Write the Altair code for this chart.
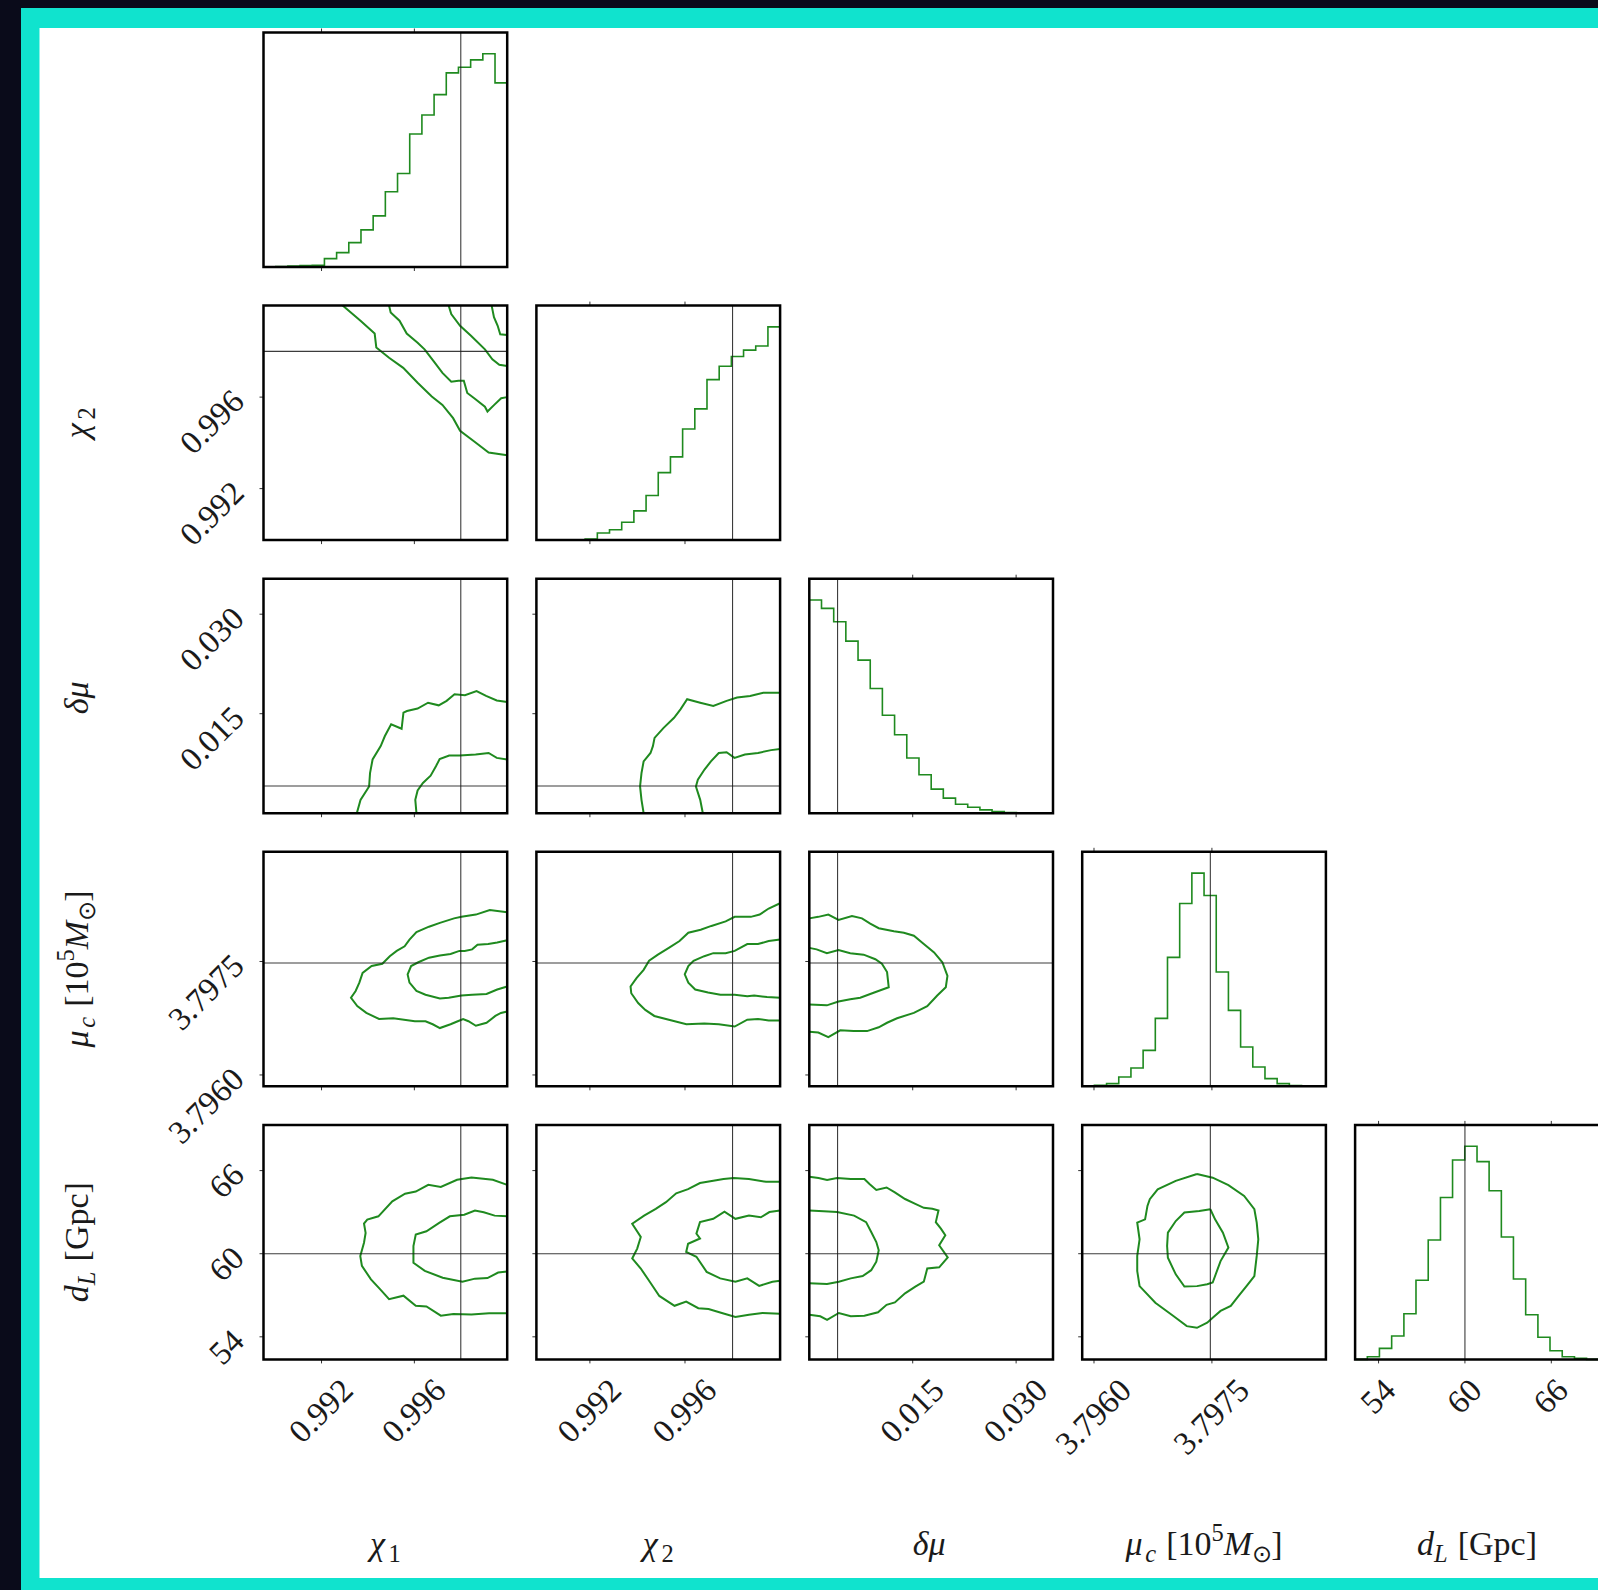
import altair as alt
import pandas as pd

FONT = "Liberation Serif"
GREEN = "#1f8a1f"
INK = "#1a1a1a"
CYAN = "#10e3ce"
NAVY = "#0a0b1a"

# ---------------- parameter ranges shown in each panel ----------------
chi1_range = [0.9895, 1.0]
chi2_range = [0.98975, 1.0]
dmu_range = [0.0, 0.03535]
muc_range = [3.79585, 3.79895]
dL_range = [52.37, 69.30]

# injected values (black cross-hair lines)
chi1_true = 0.998
chi2_true = 0.998
dmu_true = 0.0041
muc_true = 3.79748
dL_true = 60.0

# ticks
chi_ticks = [0.992, 0.996]
chi_tick_labels = ["0.992", "0.996"]
dmu_ticks = [0.015, 0.030]
dmu_tick_labels = ["0.015", "0.030"]
muc_ticks = [3.7960, 3.7975]
muc_tick_labels = ["3.7960", "3.7975"]
dL_ticks = [54, 60, 66]
dL_tick_labels = ["54", "60", "66"]

# ---------------- 1-D marginals (20 bins) ----------------
chi1_edges = [0.9895, 0.990025, 0.99055, 0.991075, 0.9916, 0.992125, 0.99265, 0.993175, 0.9937, 0.994225,
              0.99475, 0.995275, 0.9958, 0.996325, 0.99685, 0.997375, 0.9979, 0.998425, 0.99895, 0.999475, 1.0]
chi1_counts = [0, 1, 3, 4, 5, 25, 43, 73, 111, 153, 225, 280, 398, 455, 516, 581, 598, 620, 638, 551]

chi2_edges = [0.98975, 0.990263, 0.990775, 0.991288, 0.9918, 0.992313, 0.992825, 0.993338, 0.99385, 0.994363,
              0.994875, 0.995388, 0.9959, 0.996413, 0.996925, 0.997438, 0.99795, 0.998463, 0.998975, 0.999488, 1.0]
chi2_counts = [0, 0, 0, 1, 3, 21, 31, 53, 87, 133, 201, 248, 331, 391, 478, 518, 547, 566, 578, 635]

dmu_edges = [0.0, 0.00177, 0.00354, 0.0053, 0.00707, 0.00884, 0.0106, 0.01237, 0.01414, 0.01591,
             0.01768, 0.01944, 0.02121, 0.02298, 0.02475, 0.02651, 0.02828, 0.03005, 0.03182, 0.03358, 0.03535]
dmu_counts = [638, 613, 573, 515, 458, 373, 293, 235, 165, 115, 72, 45, 27, 18, 10, 5, 2, 1, 0, 0]

muc_edges = [3.79585, 3.796005, 3.79616, 3.796315, 3.79647, 3.796625, 3.79678, 3.796935, 3.79709, 3.797245,
             3.7974, 3.797555, 3.79771, 3.797865, 3.79802, 3.798175, 3.79833, 3.798485, 3.79864, 3.798795, 3.79895]
muc_counts = [1, 3, 8, 28, 55, 108, 204, 387, 549, 640, 573, 343, 228, 118, 58, 23, 8, 2, 0, 0]

dL_edges = [52.37, 53.22, 54.06, 54.91, 55.76, 56.60, 57.45, 58.30, 59.14, 59.99,
            60.84, 61.68, 62.53, 63.37, 64.22, 65.07, 65.91, 66.76, 67.61, 68.45, 69.30]
dL_counts = [0, 8, 33, 70, 136, 236, 356, 483, 595, 636, 590, 503, 365, 240, 133, 66, 26, 8, 3, 0]

# ---------------- 2-D credible contours ----------------
chi1_chi2_a_x = [0.99291, 0.99368, 0.99429, 0.99436, 0.99491, 0.99552, 0.99614, 0.99675, 0.99721, 0.99767, 0.99797, 0.99858, 0.99920, 1.0]
chi1_chi2_a_y = [1.0, 0.99934, 0.99878, 0.99817, 0.99772, 0.99728, 0.99663, 0.99603, 0.99566, 0.99508, 0.99453, 0.99406, 0.99358, 0.99346]
chi1_chi2_b_x = [0.99491, 0.99498, 0.99536, 0.99567, 0.99614, 0.99644, 0.99682, 0.99721, 0.99759, 0.99790, 0.99813, 0.99828, 0.99858, 0.99904, 0.99915, 0.99943, 0.99974, 1.0]
chi1_chi2_b_y = [1.0, 0.99970, 0.99934, 0.99878, 0.99838, 0.99809, 0.99758, 0.99706, 0.99667, 0.99672, 0.99672, 0.99618, 0.99595, 0.99558, 0.99537, 0.99565, 0.99595, 0.99600]
chi1_chi2_c_x = [0.99748, 0.99759, 0.99797, 0.99844, 0.99904, 0.99936, 0.99966, 1.0]
chi1_chi2_c_y = [1.0, 0.99963, 0.99912, 0.99868, 0.99809, 0.99765, 0.99741, 0.99736]
chi1_chi2_d_x = [0.99933, 0.99943, 0.99959, 0.99970, 1.0]
chi1_chi2_d_y = [1.0, 0.99949, 0.99912, 0.99875, 0.99872]

chi1_dmu_a_x = [0.99352, 0.99368, 0.99405, 0.99409, 0.99420, 0.99455, 0.99473, 0.99500, 0.99545, 0.99553, 0.99568,
                0.99614, 0.99659, 0.99705, 0.99739, 0.99773, 0.99818, 0.99868, 0.99909, 0.99955, 1.0]
chi1_dmu_a_y = [0.0, 0.00201, 0.00403, 0.00604, 0.00810, 0.01011, 0.01163, 0.01340, 0.01273, 0.01517, 0.01541,
                0.01577, 0.01665, 0.01626, 0.01693, 0.01792, 0.01778, 0.01842, 0.01768, 0.01700, 0.01676]
chi1_dmu_b_x = [0.99609, 0.99604, 0.99614, 0.99637, 0.99670, 0.99693, 0.99709, 0.99750, 0.99795, 0.99864, 0.99920, 0.99955, 1.0]
chi1_dmu_b_y = [0.0, 0.00201, 0.00343, 0.00456, 0.00566, 0.00707, 0.00817, 0.00870, 0.00870, 0.00884, 0.00908, 0.00834, 0.00810]

chi2_dmu_a_x = [0.99426, 0.99417, 0.99411, 0.99417, 0.99426, 0.99455, 0.99465, 0.99472, 0.99510, 0.99554,
                0.99581, 0.99609, 0.99664, 0.99719, 0.99775, 0.99819, 0.99874, 0.99929, 1.0]
chi2_dmu_a_y = [0.0, 0.00201, 0.00403, 0.00604, 0.00781, 0.00908, 0.01011, 0.01135, 0.01287, 0.01439,
                0.01566, 0.01718, 0.01665, 0.01616, 0.01693, 0.01743, 0.01768, 0.01817, 0.01817]
chi2_dmu_b_x = [0.99675, 0.99664, 0.99646, 0.99654, 0.99682, 0.99709, 0.99742, 0.99775, 0.99808, 0.99852, 0.99907, 0.99962, 1.0]
chi2_dmu_b_y = [0.0, 0.00201, 0.00403, 0.00506, 0.00658, 0.00781, 0.00908, 0.00919, 0.00834, 0.00884, 0.00908, 0.00951, 0.00969]

chi1_muc_a_x = [1.0, 0.99925, 0.99865, 0.99803, 0.99771, 0.99710, 0.99663, 0.99609, 0.99579, 0.99558, 0.99524, 0.99494,
                0.99462, 0.99416, 0.99377, 0.99363, 0.99347, 0.99327, 0.99354, 0.99393, 0.99448, 0.99509, 0.99602, 0.99648,
                0.99679, 0.99710, 0.99756, 0.99787, 0.99810, 0.99833, 0.99865, 0.99911, 0.99949, 0.99973, 1.0]
chi1_muc_a_y = [3.79815, 3.79818, 3.79812, 3.79809, 3.79807, 3.79801, 3.79796, 3.79789, 3.79779, 3.79770, 3.79764, 3.79757,
                3.79747, 3.79744, 3.79735, 3.79722, 3.79711, 3.79702, 3.79691, 3.79682, 3.79674, 3.79675, 3.79671, 3.79671,
                3.79667, 3.79662, 3.79667, 3.79671, 3.79674, 3.79671, 3.79665, 3.79669, 3.79678, 3.79682, 3.79684]
chi1_muc_b_x = [1.0, 0.99957, 0.99918, 0.99872, 0.99849, 0.99817, 0.99794, 0.99756, 0.99710, 0.99663, 0.99617, 0.99586,
                0.99571, 0.99579, 0.99609, 0.99648, 0.99710, 0.99748, 0.99803, 0.99849, 0.99911, 0.99957, 1.0]
chi1_muc_b_y = [3.79778, 3.79775, 3.79773, 3.79772, 3.79766, 3.79764, 3.79764, 3.79760, 3.79758, 3.79755, 3.79749, 3.79744,
                3.79733, 3.79722, 3.79711, 3.79706, 3.79701, 3.79702, 3.79705, 3.79706, 3.79707, 3.79713, 3.79717]

chi2_muc_a_x = [1.0, 0.99952, 0.99914, 0.99877, 0.99846, 0.99809, 0.99771, 0.99711, 0.99666, 0.99614, 0.99577, 0.99532,
                0.99486, 0.99449, 0.99426, 0.99396, 0.99371, 0.99374, 0.99403, 0.99433, 0.99471, 0.99532, 0.99606, 0.99681,
                0.99742, 0.99809, 0.99862, 0.99907, 0.99952, 1.0]
chi2_muc_a_y = [3.79827, 3.79820, 3.79812, 3.79809, 3.79809, 3.79809, 3.79803, 3.79797, 3.79792, 3.79788, 3.79777, 3.79768,
                3.79759, 3.79751, 3.79739, 3.79728, 3.79717, 3.79708, 3.79695, 3.79686, 3.79678, 3.79673, 3.79667, 3.79668,
                3.79667, 3.79664, 3.79673, 3.79674, 3.79672, 3.79672]
chi2_muc_b_x = [1.0, 0.99952, 0.99907, 0.99862, 0.99809, 0.99771, 0.99719, 0.99681, 0.99636, 0.99614, 0.99599, 0.99614,
                0.99643, 0.99697, 0.99749, 0.99809, 0.99862, 0.99891, 0.99945, 1.0]
chi2_muc_b_y = [3.79779, 3.79777, 3.79773, 3.79773, 3.79764, 3.79761, 3.79761, 3.79757, 3.79751, 3.79744, 3.79733, 3.79722,
                3.79713, 3.79709, 3.79706, 3.79706, 3.79704, 3.79705, 3.79703, 3.79702]

dmu_muc_a_x = [0.0, 0.00131, 0.00276, 0.00424, 0.00619, 0.00764, 0.00884, 0.01007, 0.01227, 0.01372, 0.01517, 0.01661,
               0.01810, 0.01930, 0.02004, 0.01980, 0.01856, 0.01711, 0.01517, 0.01273, 0.01128, 0.01007, 0.00838, 0.00643,
               0.00449, 0.00276, 0.00131, 0.0]
dmu_muc_a_y = [3.79807, 3.79809, 3.79812, 3.79805, 3.79810, 3.79807, 3.79800, 3.79794, 3.79790, 3.79788, 3.79784, 3.79773,
               3.79762, 3.79749, 3.79731, 3.79716, 3.79705, 3.79691, 3.79682, 3.79675, 3.79669, 3.79663, 3.79658, 3.79658,
               3.79659, 3.79650, 3.79656, 3.79657]
dmu_muc_b_x = [0.0, 0.00106, 0.00255, 0.00424, 0.00594, 0.00788, 0.00958, 0.01053, 0.01128, 0.01152, 0.01032, 0.00884,
               0.00739, 0.00594, 0.00424, 0.00255, 0.0]
dmu_muc_b_y = [3.79768, 3.79766, 3.79761, 3.79765, 3.79761, 3.79759, 3.79753, 3.79747, 3.79736, 3.79716, 3.79712, 3.79707,
               3.79702, 3.79700, 3.79697, 3.79692, 3.79693]

chi1_dL_a_x = [1.0, 0.99938, 0.99846, 0.99784, 0.99714, 0.99660, 0.99606, 0.99560, 0.99505, 0.99445, 0.99397, 0.99383,
               0.99390, 0.99383, 0.99367, 0.99374, 0.99413, 0.99452, 0.99491, 0.99553, 0.99606, 0.99652, 0.99714, 0.99768,
               0.99846, 0.99922, 1.0]
chi1_dL_a_y = [64.97, 65.34, 65.51, 65.34, 64.82, 64.97, 64.49, 64.33, 63.78, 62.70, 62.47, 62.18, 61.50, 60.79, 59.83,
               59.12, 58.15, 57.44, 56.72, 56.97, 56.24, 56.19, 55.53, 55.65, 55.62, 55.70, 55.70]
chi1_dL_b_x = [1.0, 0.99946, 0.99899, 0.99861, 0.99815, 0.99753, 0.99707, 0.99652, 0.99606, 0.99596, 0.99596, 0.99645,
               0.99722, 0.99807, 0.99861, 0.99915, 0.99961, 1.0]
chi1_dL_b_y = [62.70, 62.75, 62.99, 63.12, 62.82, 62.70, 62.23, 61.62, 61.38, 60.55, 59.35, 58.76, 58.27, 57.98, 58.20,
               58.24, 58.64, 58.71]

chi2_dL_a_x = [1.0, 0.99941, 0.99869, 0.99805, 0.99762, 0.99719, 0.99663, 0.99613, 0.99563, 0.99520, 0.99477, 0.99428,
               0.99378, 0.99414, 0.99399, 0.99378, 0.99414, 0.99456, 0.99492, 0.99556, 0.99605, 0.99656, 0.99699, 0.99755,
               0.99812, 0.99869, 0.99926, 1.0]
chi2_dL_a_y = [65.19, 65.19, 65.39, 65.46, 65.39, 65.27, 65.10, 64.66, 64.36, 63.72, 63.24, 62.75, 62.16, 61.21, 60.37,
               59.66, 58.93, 57.87, 56.95, 56.24, 56.55, 56.07, 56.01, 55.72, 55.43, 55.60, 55.72, 55.67]
chi2_dL_b_x = [1.0, 0.99955, 0.99919, 0.99869, 0.99812, 0.99766, 0.99719, 0.99663, 0.99648, 0.99663, 0.99613, 0.99605,
               0.99648, 0.99691, 0.99748, 0.99812, 0.99862, 0.99912, 0.99968, 1.0]
chi2_dL_b_y = [63.12, 63.01, 62.63, 62.75, 62.52, 63.04, 62.52, 62.28, 61.45, 61.10, 60.72, 60.13, 59.78, 58.69, 58.22,
               57.98, 58.22, 57.68, 57.98, 58.04]

dmu_dL_a_x = [0.0, 0.00134, 0.00258, 0.00403, 0.00601, 0.00799, 0.00873, 0.00972, 0.01121, 0.01241, 0.01389, 0.01538,
              0.01661, 0.01785, 0.01874, 0.01835, 0.01909, 0.01973, 0.01884, 0.02008, 0.01884, 0.01711, 0.01661, 0.01538,
              0.01389, 0.01241, 0.01121, 0.00997, 0.00799, 0.00601, 0.00428, 0.00258, 0.00159, 0.0]
dmu_dL_a_y = [65.56, 65.46, 65.32, 65.46, 65.39, 65.39, 65.04, 64.60, 64.78, 64.43, 63.95, 63.60, 63.31, 63.24, 63.12,
              62.28, 61.81, 61.33, 60.61, 59.73, 59.02, 58.93, 57.98, 57.63, 57.14, 56.48, 56.31, 55.77, 55.52, 55.48,
              55.72, 55.23, 55.48, 55.60]
dmu_dL_b_x = [0.0, 0.00209, 0.00403, 0.00650, 0.00824, 0.00898, 0.00972, 0.01007, 0.00972, 0.00898, 0.00774, 0.00601,
              0.00428, 0.00258, 0.0]
dmu_dL_b_y = [63.12, 63.07, 63.01, 62.75, 62.28, 61.57, 60.84, 60.25, 59.42, 58.81, 58.39, 58.22, 57.98, 57.82, 57.87]

muc_dL_a_x = [3.79731, 3.79751, 3.79771, 3.79791, 3.79804, 3.79807, 3.79809, 3.79807, 3.79804, 3.79794, 3.79784, 3.79774,
              3.79761, 3.79751, 3.79744, 3.79731, 3.79718, 3.79701, 3.79678, 3.79658, 3.79655, 3.79655, 3.79658, 3.79655,
              3.79665, 3.79668, 3.79671, 3.79681, 3.79704, 3.79731]
muc_dL_a_y = [65.75, 65.49, 64.95, 64.17, 63.21, 62.25, 61.04, 59.84, 58.39, 57.66, 56.95, 56.23, 55.87, 55.38, 55.02,
              54.65, 54.77, 55.50, 56.46, 57.66, 58.75, 59.84, 61.04, 62.25, 62.48, 63.45, 63.94, 64.65, 65.26, 65.75]
muc_dL_b_x = [3.79748, 3.79754, 3.79764, 3.79771, 3.79761, 3.79751, 3.79744, 3.79731, 3.79715, 3.79704, 3.79694, 3.79693,
              3.79694, 3.79704, 3.79715, 3.79734, 3.79748]
muc_dL_b_y = [63.21, 62.48, 61.52, 60.44, 59.47, 57.92, 57.80, 57.66, 57.63, 58.51, 59.71, 60.55, 61.52, 62.36, 62.97,
              63.09, 63.21]

# ---------------- tables built from the lists above ----------------
PARAMS = ["chi1", "chi2", "dmu", "muc", "dL"]
RANGES = {"chi1": chi1_range, "chi2": chi2_range, "dmu": dmu_range, "muc": muc_range, "dL": dL_range}
TRUTHS = {"chi1": chi1_true, "chi2": chi2_true, "dmu": dmu_true, "muc": muc_true, "dL": dL_true}
TICKS = {"chi1": (chi_ticks, chi_tick_labels), "chi2": (chi_ticks, chi_tick_labels),
         "dmu": (dmu_ticks, dmu_tick_labels), "muc": (muc_ticks, muc_tick_labels),
         "dL": (dL_ticks, dL_tick_labels)}
HISTS = {"chi1": (chi1_edges, chi1_counts), "chi2": (chi2_edges, chi2_counts),
         "dmu": (dmu_edges, dmu_counts), "muc": (muc_edges, muc_counts), "dL": (dL_edges, dL_counts)}
CONTOURS = {
    (0, 1): [(chi1_chi2_a_x, chi1_chi2_a_y), (chi1_chi2_b_x, chi1_chi2_b_y),
             (chi1_chi2_c_x, chi1_chi2_c_y), (chi1_chi2_d_x, chi1_chi2_d_y)],
    (0, 2): [(chi1_dmu_a_x, chi1_dmu_a_y), (chi1_dmu_b_x, chi1_dmu_b_y)],
    (1, 2): [(chi2_dmu_a_x, chi2_dmu_a_y), (chi2_dmu_b_x, chi2_dmu_b_y)],
    (0, 3): [(chi1_muc_a_x, chi1_muc_a_y), (chi1_muc_b_x, chi1_muc_b_y)],
    (1, 3): [(chi2_muc_a_x, chi2_muc_a_y), (chi2_muc_b_x, chi2_muc_b_y)],
    (2, 3): [(dmu_muc_a_x, dmu_muc_a_y), (dmu_muc_b_x, dmu_muc_b_y)],
    (0, 4): [(chi1_dL_a_x, chi1_dL_a_y), (chi1_dL_b_x, chi1_dL_b_y)],
    (1, 4): [(chi2_dL_a_x, chi2_dL_a_y), (chi2_dL_b_x, chi2_dL_b_y)],
    (2, 4): [(dmu_dL_a_x, dmu_dL_a_y), (dmu_dL_b_x, dmu_dL_b_y)],
    (3, 4): [(muc_dL_a_x, muc_dL_a_y), (muc_dL_b_x, muc_dL_b_y)],
}

# axis titles: (text, size factor, italic, baseline shift in em); a leading space becomes a gap
TITLES = {
    "chi1": [("χ", 1.0, True, 0.0), ("1", 0.72, False, 0.2)],
    "chi2": [("χ", 1.0, True, 0.0), ("2", 0.72, False, 0.2)],
    "dmu": [("δμ", 1.0, True, 0.0)],
    "muc": [("μ", 1.0, True, 0.0), ("c", 0.72, True, 0.2), (" [10", 1.0, False, 0.0),
            ("5", 0.72, False, -0.42), ("M", 1.0, True, 0.0), ("⊙", 0.72, False, 0.2), ("]", 1.0, False, 0.0)],
    "dL": [("d", 1.0, True, 0.0), ("L", 0.72, True, 0.2), (" [Gpc]", 1.0, False, 0.0)],
}

# ---------------- layout (pixels) ----------------
W_CANVAS, H_CANVAS = 1598, 1590
COL_X = [263.5, 536.4, 809.3, 1082.2, 1355.1]
ROW_Y = [32.5, 305.6, 578.7, 851.8, 1124.9]
PW, PH = 243.7, 234.5
TICK_LEN = 4
TICK_FS = 33
TITLE_FS = 34
SQ2 = 2 ** 0.5

GLYPH_EM = {".": 0.25, " ": 0.3, "[": 0.333, "]": 0.333, "G": 0.722, "p": 0.5, "c": 0.444,
            "χ": 0.55, "δ": 0.5, "μ": 0.58, "M": 0.833, "d": 0.5, "L": 0.556, "⊙": 0.78}


def em_width(s):
    return sum(GLYPH_EM.get(ch, 0.5) for ch in s)


def xscale(p, c):
    lo, hi = RANGES[p]
    x0, x1 = COL_X[c], COL_X[c] + PW
    if c == 4:  # last column runs past the right edge of the canvas
        hi = hi + (hi - lo) * 2.0 / PW
        x1 += 2.0
    return alt.Scale(domain=[lo, hi], range=[x0, x1], nice=False, zero=False)


def yscale(domain, r):
    return alt.Scale(domain=list(domain), range=[ROW_Y[r] + PH, ROW_Y[r]], nice=False, zero=False)


def xenc(field, sc):
    return alt.X(field, type="quantitative", scale=sc, axis=None)


def yenc(field, sc):
    return alt.Y(field, type="quantitative", scale=sc, axis=None)


layers = []

# frame of the page
one = pd.DataFrame({"k": [0]})
layers.append(alt.Chart(one).mark_rect(color=CYAN).encode(
    x=alt.value(21), x2=alt.value(W_CANVAS), y=alt.value(8), y2=alt.value(H_CANVAS)))
layers.append(alt.Chart(one).mark_rect(color="white").encode(
    x=alt.value(39.5), x2=alt.value(W_CANVAS), y=alt.value(28), y2=alt.value(1578)))

for r in range(5):
    for c in range(r + 1):
        px, py = PARAMS[c], PARAMS[r]
        xs = xscale(px, c)
        left, top = COL_X[c], ROW_Y[r]
        bottom = top + PH
        if r == c:
            edges, counts = HISTS[px]
            ymax = 1.1 * max(counts)
            ys = yscale([0, ymax], r)
            ylo, yhi = 0, ymax
            step = pd.DataFrame({"x": edges, "y": list(counts) + [counts[-1]]})
            layers.append(alt.Chart(step).mark_line(
                interpolate="step-after", color=GREEN, strokeWidth=1.6).encode(
                x=xenc("x", xs), y=yenc("y", ys)))
        else:
            ys = yscale(RANGES[py], r)
            ylo, yhi = RANGES[py]
            for cx, cy in CONTOURS[(c, r)]:
                df = pd.DataFrame({"x": cx, "y": cy, "i": list(range(len(cx)))})
                layers.append(alt.Chart(df).mark_line(color=GREEN, strokeWidth=2.0).encode(
                    x=xenc("x", xs), y=yenc("y", ys), order=alt.Order("i:Q")))
            # horizontal truth line
            hl = pd.DataFrame({"x": [RANGES[px][0]], "x2": [RANGES[px][1]], "y": [TRUTHS[py]]})
            layers.append(alt.Chart(hl).mark_rule(color=INK, strokeWidth=1.1, opacity=0.85).encode(
                x=xenc("x", xs), x2="x2:Q", y=yenc("y", ys)))
        # vertical truth line
        vl = pd.DataFrame({"x": [TRUTHS[px]], "y": [ylo], "y2": [yhi]})
        layers.append(alt.Chart(vl).mark_rule(color=INK, strokeWidth=1.1, opacity=0.85).encode(
            x=xenc("x", xs), y=yenc("y", ys), y2="y2:Q"))

        # tick marks
        tv, tl = TICKS[px]
        tdf = pd.DataFrame({"v": tv})
        layers.append(alt.Chart(tdf).mark_rule(color="#333333", strokeWidth=1).encode(
            x=xenc("v", xs), y=alt.value(bottom), y2=alt.value(bottom + TICK_LEN)))
        if r == c:
            layers.append(alt.Chart(tdf).mark_rule(color="#333333", strokeWidth=1).encode(
                x=xenc("v", xs), y=alt.value(top - TICK_LEN), y2=alt.value(top)))
        else:
            yv, _ = TICKS[py]
            layers.append(alt.Chart(pd.DataFrame({"v": yv})).mark_rule(color="#333333", strokeWidth=1).encode(
                y=yenc("v", ys), x=alt.value(left - TICK_LEN), x2=alt.value(left)))

        # panel frame
        fx1 = RANGES[px][1] + ((RANGES[px][1] - RANGES[px][0]) * 2.0 / PW if c == 4 else 0)
        fr = pd.DataFrame({"x": [RANGES[px][0]], "x2": [fx1], "y": [ylo], "y2": [yhi]})
        layers.append(alt.Chart(fr).mark_rect(fillOpacity=0, stroke="black", strokeWidth=2.5).encode(
            x=xenc("x", xs), x2="x2:Q", y=yenc("y", ys), y2="y2:Q"))

        # tick labels on the outer edges
        if r == 4:
            box = (em_width(tl[0]) - 0.06 + 0.68) * TICK_FS / SQ2
            ldf = pd.DataFrame({"v": tv, "t": tl})
            layers.append(alt.Chart(ldf).mark_text(
                font=FONT, fontSize=TICK_FS, angle=315, align="center", baseline="middle", color=INK).encode(
                x=xenc("v", xs), y=alt.value(bottom + 18.6 + box / 2), text="t:N"))
        if c == 0 and r > 0:
            yv, yl = TICKS[py]
            box = (em_width(yl[0]) - 0.06 + 0.68) * TICK_FS / SQ2
            shift = box / 2 - 8
            ldf = pd.DataFrame({"v": yv, "t": yl})
            layers.append(alt.Chart(ldf).mark_text(
                font=FONT, fontSize=TICK_FS, angle=315, align="center", baseline="middle", color=INK,
                dx=-shift / SQ2, dy=shift / SQ2).encode(
                x=alt.value(left - 17.5 - box / 2), y=yenc("v", ys), text="t:N"))


def title_layers(pieces, center, vertical):
    total = sum(em_width(t) * f for t, f, _, _ in pieces) * TITLE_FS
    out = []
    pos = 0.0
    for t, f, italic, sh in pieces:
        size = TITLE_FS * f
        lead = len(t) - len(t.lstrip(" "))
        pos += em_width(" " * lead) * size
        word = t.lstrip(" ")
        mk = dict(font=FONT, fontSize=size, align="left", baseline="alphabetic", color=INK,
                  fontStyle="italic" if italic else "normal")
        df = pd.DataFrame({"t": [word]})
        if vertical:
            enc = dict(x=alt.value(88 + sh * TITLE_FS), y=alt.value(center + total / 2 - pos))
            mk["angle"] = 270
        else:
            enc = dict(x=alt.value(center - total / 2 + pos), y=alt.value(1555 + sh * TITLE_FS))
        out.append(alt.Chart(df).mark_text(**mk).encode(text="t:N", **enc))
        pos += em_width(word) * size
    return out


for i, p in enumerate(PARAMS):
    layers += title_layers(TITLES[p], COL_X[i] + PW / 2, vertical=False)
    if i > 0:
        layers += title_layers(TITLES[p], ROW_Y[i] + PH / 2, vertical=True)

chart = alt.layer(*layers).resolve_scale(x="independent", y="independent").properties(
    width=W_CANVAS, height=H_CANVAS, padding=0, autosize=alt.AutoSizeParams(type="none")
).configure(background=NAVY).configure_view(stroke=None)

chart.save("out.html", embed_options={"renderer": "svg", "actions": False})
